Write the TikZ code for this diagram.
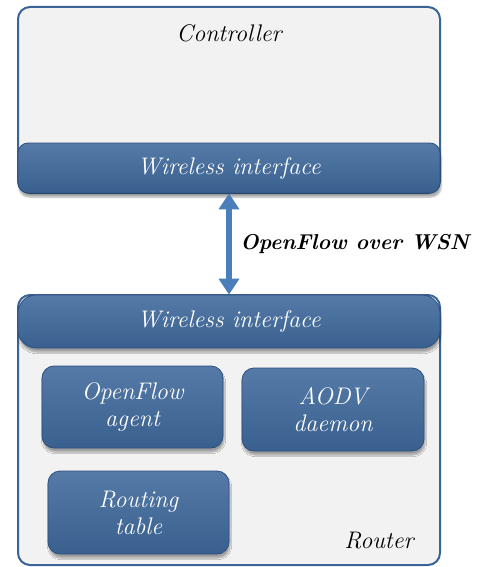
\documentclass[tikz,border=0pt]{standalone}
\usepackage{tikz}
\usetikzlibrary{arrows.meta,shadows.blur}
\definecolor{barblue}{RGB}{62,104,155}
\definecolor{bardark}{RGB}{44,80,126}
\definecolor{panelgray}{RGB}{242,242,242}
\definecolor{panelline}{RGB}{58,100,150}
\definecolor{arrowblue}{RGB}{74,126,187}
\tikzstyle{panel}=[draw=panelline, line width=2pt, fill=panelgray, rounded corners=12pt]
\tikzstyle{bar}=[draw=bardark, line width=0.8pt, top color=barblue!88!white, middle color=barblue, bottom color=barblue!92!black, rounded corners=10pt, text=white, font=\fontsize{24}{27}\selectfont\itshape, blur shadow={shadow xshift=1pt, shadow yshift=-4pt, shadow blur steps=6, shadow opacity=35}]
\tikzstyle{block}=[bar, align=center, minimum width=181pt, minimum height=82pt, rounded corners=12pt]

\begin{document}
\begin{tikzpicture}[x=1pt, y=-1pt]
            \useasboundingbox (0,0) rectangle (485,567);
            %%%%% Controller
            \node[panel, minimum width=422pt, minimum height=186pt] (ctrl) at (229,100) {};
            \node[anchor=base, font=\fontsize{24}{27}\selectfont\itshape] (ctrltxt) at (229,42) {Controller};
            \node[bar, minimum width=422pt, minimum height=50pt] (ctrlbar) at (229,168) {Wireless interface};
            %%%%% Router
            \node[panel, minimum width=422pt, minimum height=270pt] (router) at (229,430) {};
            \node[bar, minimum width=422pt, minimum height=53pt, rounded corners=18pt] (routerbar) at (229,321.5) {Wireless interface};
            \node[block] (ofagent) at (132.5,407) {OpenFlow\\agent};
            \node[block, minimum width=182pt, minimum height=83pt] (aodv) at (333,409.5) {AODV\\daemon};
            \node[block, minimum height=83pt] (rtable) at (138.5,512.5) {Routing\\table};
            \node[anchor=base east, font=\fontsize{24}{27}\selectfont\itshape] (routertxt) at (417,548) {Router};
            %%%% Link
            \draw[{Triangle[width=20pt,length=16pt]}-{Triangle[width=20pt,length=16pt]}, arrowblue, line width=6pt] (ctrlbar.south) -- (routerbar.north)
                node[midway, right=5pt, text=black, font=\fontsize{21.5}{24}\selectfont\bfseries\itshape] (linktxt) {OpenFlow over WSN};
\end{tikzpicture}
\end{document}
